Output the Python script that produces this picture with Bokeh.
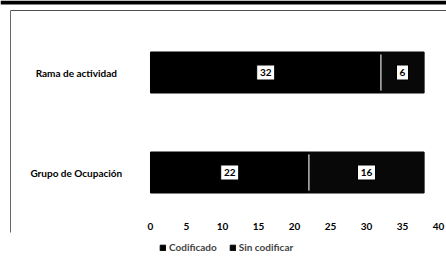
from bokeh.plotting import figure
from bokeh.models import ColumnDataSource, Legend, LegendItem, FixedTicker, Range1d, BoxAnnotation
from bokeh.core.properties import value
from bokeh.embed import file_html
from bokeh.resources import INLINE

categories = ["Grupo de Ocupación", "Rama de actividad"]
codificado = [22, 32]
sin_codificar = [16, 6]
x_ticks = [0, 5, 10, 15, 20, 25, 30, 35, 40]

FONT = "Lato"

ypos = list(range(len(categories)))
src = ColumnDataSource(dict(
    y=ypos,
    cat=categories,
    cod=codificado,
    sin=sin_codificar,
    end=[a + b for a, b in zip(codificado, sin_codificar)],
    cod_mid=[a / 2 for a in codificado],
    sin_mid=[a + b / 2 for a, b in zip(codificado, sin_codificar)],
    cod_txt=[str(v) for v in codificado],
    sin_txt=[str(v) for v in sin_codificar],
    cod_w=[6 + 6 * len(str(v)) for v in codificado],
    sin_w=[6 + 6 * len(str(v)) for v in sin_codificar],
    lab_x=[-10.3] * len(categories),
))

p = figure(frame_width=446, frame_height=264, output_backend="svg", toolbar_location=None,
           y_range=Range1d(-0.92, 1.72), x_range=Range1d(-20.83, 41.11),
           min_border_left=0, min_border_right=0, min_border_top=0, min_border_bottom=0)
p.outline_line_color = None
p.xgrid.grid_line_color = None
p.ygrid.grid_line_color = None
p.yaxis.visible = False

# scanned chart-box border (decoration)
p.add_layout(BoxAnnotation(bottom=1.68, fill_color="#000000", fill_alpha=1, line_color=None))
p.add_layout(BoxAnnotation(bottom=1.615, top=1.625, left=-19.4, fill_color="#222222",
                           fill_alpha=0.8, line_color=None))
p.add_layout(BoxAnnotation(left=-19.5, right=-19.38, top=1.62, bottom=-0.6,
                           fill_color="#222222", fill_alpha=0.8, line_color=None))

r1 = p.hbar(y="y", left=0, right="cod", height=0.41, source=src,
            fill_color="#000000", line_color="#000000")
r2 = p.hbar(y="y", left="cod", right="end", height=0.41, source=src,
            fill_color="#080808", line_color="#080808")
p.hbar(y="y", left="cod", right="cod", height=0.36, source=src,
       fill_color=None, line_color="#bbbbbb", line_width=1)

for xcol, tcol, wcol in (("cod_mid", "cod_txt", "cod_w"), ("sin_mid", "sin_txt", "sin_w")):
    p.rect(x=xcol, y="y", width=wcol, height=15, width_units="screen", height_units="screen",
           source=src, fill_color="#ffffff", line_color="#000000")
    p.text(x=xcol, y="y", text=tcol, source=src, text_align="center",
           text_baseline="middle", text_font=value(FONT), text_font_style="bold",
           text_font_size="10px", text_color="#000000")

p.text(x="lab_x", y="y", text="cat", source=src, text_align="center",
       text_baseline="middle", text_font=value(FONT), text_font_size="10px",
       text_font_style="bold", text_color="#000000")

p.xaxis.ticker = FixedTicker(ticks=x_ticks)
p.xaxis.fixed_location = -0.5
p.xaxis.axis_line_color = None
p.xaxis.major_tick_line_color = None
p.xaxis.minor_tick_line_color = None
p.xaxis.major_tick_out = 0
p.xaxis.major_tick_in = 0
p.xaxis.major_label_standoff = 0
p.xaxis.major_label_text_font = FONT
p.xaxis.major_label_text_font_style = "bold"
p.xaxis.major_label_text_font_size = "10px"
p.xaxis.major_label_text_color = "#000000"

legend = Legend(items=[LegendItem(label="Codificado", renderers=[r1]),
                       LegendItem(label="Sin codificar", renderers=[r2])],
                orientation="horizontal", location=(159, 11),
                label_text_font=FONT, label_text_font_size="10px", label_text_font_style="bold",
                glyph_width=7, glyph_height=7, label_standoff=3, spacing=12,
                padding=0, margin=0, border_line_color=None, background_fill_alpha=0,
                label_height=10)
p.add_layout(legend, "center")

open("out.html", "w").write(file_html(p, INLINE))
